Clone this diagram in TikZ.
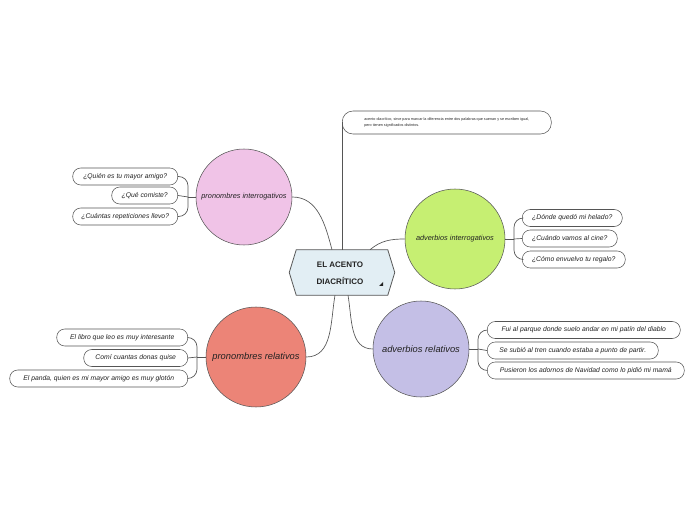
\documentclass[tikz,border=0pt]{standalone}
\usepackage{fontspec}
\setmainfont{Liberation Sans}
\usepackage{xcolor}
\usetikzlibrary{positioning, calc}

\definecolor{rosa}{HTML}{F0C3E7}
\definecolor{verde}{HTML}{C6EF72}
\definecolor{rojo}{HTML}{EC8477}
\definecolor{lila}{HTML}{C4BFE6}
\definecolor{celeste}{HTML}{E2EEF4}
\definecolor{linea}{HTML}{555555}
\definecolor{texto}{HTML}{222222}

\begin{document}
\begin{tikzpicture}[
    x=0.75pt, y=-0.75pt,
    circulo/.style={draw=linea, circle, inner sep=0pt, minimum size=#1*0.75pt},
    hoja/.style={draw=linea, rectangle, rounded corners=6pt, minimum height=12.75pt, inner sep=0pt, fill=white, text=texto, font=\fontsize{5.1}{6}\selectfont\itshape},
    ancho/.style={minimum width=#1*0.75pt},
    rama/.style={draw=linea, line width=0.5pt},
    chico/.style={font=\fontsize{5.5}{6}\selectfont\itshape, text=texto},
    grande/.style={font=\fontsize{7}{8}\selectfont\itshape, text=texto}
]
    \useasboundingbox (0,0) rectangle (696,520);

    % ================= NODO CENTRAL Y NOTA =================
    \node[minimum width=78.75pt, minimum height=33.75pt, inner sep=0pt] (acento) at (342,272.5) {};
    \draw[linea, fill=celeste, line width=0.6pt] (acento.west) -- ([xshift=5.25pt]acento.north west)
        -- ([xshift=-5.25pt]acento.north east) -- (acento.east)
        -- ([xshift=-5.25pt]acento.south east) -- ([xshift=5.25pt]acento.south west) -- cycle;
    \node[align=center, font=\fontsize{6}{12.5}\selectfont\bfseries, text=texto] (titulo) at (340,273.5) {EL ACENTO\\DIACRÍTICO};
    \fill[texto] (379,286) -- (383,286) -- (383,282) -- cycle;

    \node[draw=linea, rectangle, rounded corners=8pt, minimum width=156.75pt, minimum height=17.25pt,
          anchor=west, align=left, inner xsep=10pt, text=texto, font=\fontsize{2.8}{4.2}\selectfont] (nota) at (342,122.5)
        {acento diacrítico, sirve para marcar la diferencia entre dos palabras que suenan y se escriben igual,\\pero tienen significados distintos.};
    \draw[rama] (nota.west) -- (acento.north);

    % ================= CIRCULOS =================
    \node[circulo=96, fill=rosa, label={[chico]center:pronombres interrogativos}] (pronint) at (244,197) {};
    \node[circulo=100, fill=verde, label={[chico]center:adverbios interrogativos}] (advint) at (455,239) {};
    \node[circulo=100, fill=rojo, label={[grande]center:pronombres relativos}] (pronrel) at (256,357) {};
    \node[circulo=96, fill=lila, label={[grande]center:adverbios relativos}] (advrel) at (421,349) {};

    \draw[rama] ([xshift=-7.5pt]acento.north) to[out=105, in=0] (pronint.east);
    \draw[rama] ([xshift=21pt]acento.north) to[out=40, in=180] (advint.west);
    \draw[rama] ([xshift=-5.25pt]acento.south) to[out=-100, in=0] (pronrel.east);
    \draw[rama] ([xshift=4.5pt]acento.south) to[out=-80, in=180] (advrel.west);

    % ================= PRONOMBRES INTERROGATIVOS =================
    \node[hoja, ancho=105, anchor=east] (pi1) at (178,176.5) {¿Quién es tu mayor amigo?};
    \node[hoja, ancho=66, anchor=east] (pi2) at (178,195.5) {¿Qué comiste?};
    \node[hoja, ancho=105, anchor=east] (pi3) at (178,216.5) {¿Cuántas repeticiones llevo?};
    \coordinate (jpi) at (188,197);
    \draw[rama] (pronint.west) -- (jpi);
    \draw[rama, rounded corners=7pt] (jpi) |- (pi1.east);
    \draw[rama] (jpi) -- (pi2.east);
    \draw[rama, rounded corners=7pt] (jpi) |- (pi3.east);

    % ================= ADVERBIOS INTERROGATIVOS =================
    \node[hoja, ancho=100, anchor=west] (ai1) at (522,218) {¿Dónde quedó mi helado?};
    \node[hoja, ancho=95, anchor=west] (ai2) at (522,238.5) {¿Cuándo vamos al cine?};
    \node[hoja, ancho=103, anchor=west] (ai3) at (522,259.5) {¿Cómo envuelvo tu regalo?};
    \coordinate (jai) at (514,239);
    \draw[rama] (advint.east) -- (jai);
    \draw[rama, rounded corners=7pt] (jai) |- (ai1.west);
    \draw[rama] (jai) -- (ai2.west);
    \draw[rama, rounded corners=7pt] (jai) |- (ai3.west);

    % ================= ADVERBIOS RELATIVOS =================
    \node[hoja, ancho=193, anchor=west] (ar1) at (487,330) {Fui al parque donde suelo andar en mi patín del diablo};
    \node[hoja, ancho=171, anchor=west] (ar2) at (487,350.5) {Se subió al tren cuando estaba a punto de partir.};
    \node[hoja, ancho=197, anchor=west] (ar3) at (487,370.5) {Pusieron los adornos de Navidad como lo pidió mi mamá};
    \coordinate (jar) at (478,349);
    \draw[rama] (advrel.east) -- (jar);
    \draw[rama, rounded corners=7pt] (jar) |- (ar1.west);
    \draw[rama] (jar) -- (ar2.west);
    \draw[rama, rounded corners=7pt] (jar) |- (ar3.west);

    % ================= PRONOMBRES RELATIVOS =================
    \node[hoja, ancho=131, anchor=east] (pr1) at (188,337.5) {El libro que leo es muy interesante};
    \node[hoja, ancho=104, anchor=east] (pr2) at (188,358) {Comí cuantas donas quise};
    \node[hoja, ancho=178, anchor=east] (pr3) at (188,378.5) {El panda, quien es mi mayor amigo es muy glotón};
    \coordinate (jpr) at (197,357);
    \draw[rama] (pronrel.west) -- (jpr);
    \draw[rama, rounded corners=7pt] (jpr) |- (pr1.east);
    \draw[rama] (jpr) -- (pr2.east);
    \draw[rama, rounded corners=7pt] (jpr) |- (pr3.east);

\end{tikzpicture}
\end{document}
